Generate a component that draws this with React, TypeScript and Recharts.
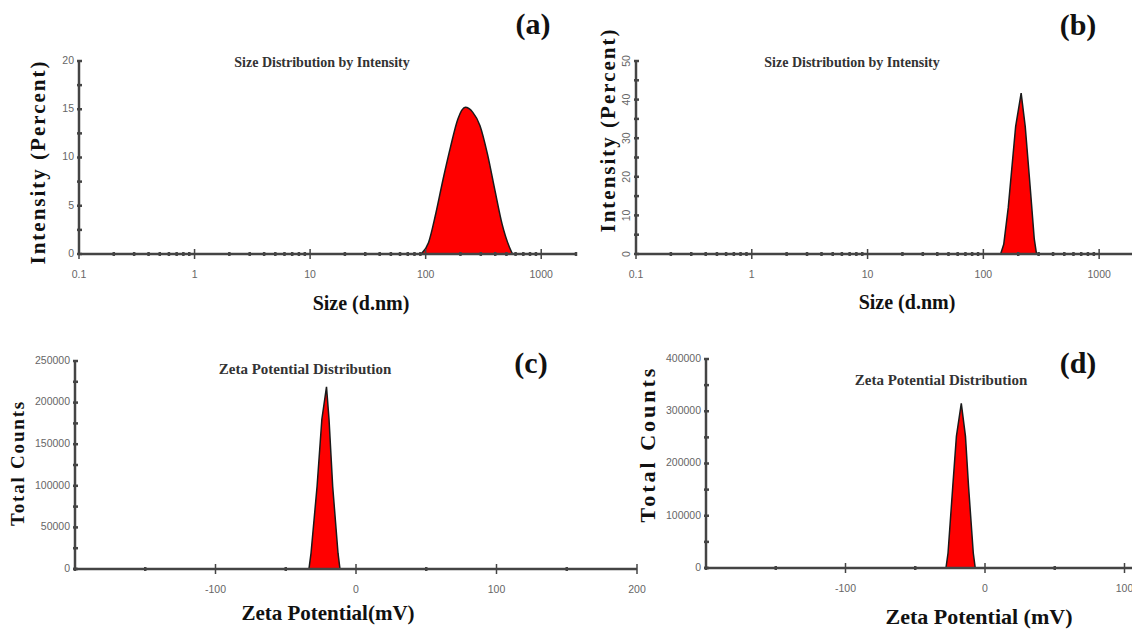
import { Area, AreaChart, XAxis, YAxis } from "recharts";
import type { CSSProperties, ReactNode } from "react";

// (a) size distribution, sample 1
const SIZE_A = [91.3, 106, 122.4, 141.8, 164.2, 190.1, 220.2, 255, 295.3, 342, 396.1, 458.7, 531.2, 565];
const INTENSITY_A = [0, 1.2, 4.2, 7.8, 11.1, 14.0, 15.2, 14.7, 13.3, 10.4, 6.7, 3.1, 0.7, 0];

// (b) size distribution, sample 2
const SIZE_B = [141, 150, 164, 190, 212, 230, 255, 275, 288];
const INTENSITY_B = [0, 2.5, 12, 33, 41.7, 33, 16.5, 4, 0];

// (c) zeta potential, sample 1
const ZETA_C = [-33.5, -32, -27.7, -24.3, -21, -19.2, -16.6, -12.8, -11.4];
const COUNTS_C = [0, 19000, 99500, 180000, 219000, 180000, 99500, 19000, 0];

// (d) zeta potential, sample 2
const ZETA_D = [-28, -26.5, -23.1, -20.5, -17, -14, -11.8, -8.4, -7];
const COUNTS_D = [0, 28700, 156300, 252000, 315000, 252000, 156300, 28700, 0];

// axis ticks
const DECADES = [0.1, 1, 10, 100, 1000];
const LOG_MINOR = [2, 3, 4, 5, 6, 7, 8, 9];
const SIZE_TICKS = DECADES.flatMap((d) => [d, ...LOG_MINOR.map((m) => +(d * m).toPrecision(3))]).filter((v) => v <= 2000);
const ZETA_TICKS = [-200, -150, -100, -50, 0, 50, 100, 150, 200];
const ZETA_LABELS = [-100, 0, 100, 200];
const INT_A_TICKS = [0, 2.5, 5, 7.5, 10, 12.5, 15, 17.5, 20];
const INT_A_LABELS = [0, 5, 10, 15, 20];
const INT_B_TICKS = [0, 5, 10, 15, 20, 25, 30, 35, 40, 45, 50];
const INT_B_LABELS = [0, 10, 20, 30, 40, 50];
const COUNT_C_TICKS = [0, 25000, 50000, 75000, 100000, 125000, 150000, 175000, 200000, 225000, 250000];
const COUNT_C_LABELS = [0, 50000, 100000, 150000, 200000, 250000];
const COUNT_D_TICKS = [0, 50000, 100000, 150000, 200000, 250000, 300000, 350000, 400000];
const COUNT_D_LABELS = [0, 100000, 200000, 300000, 400000];

const AXIS = "#444";
const TICK_FONT = "'Liberation Sans Narrow', 'Liberation Sans', Arial, sans-serif";
const SERIF = "'Liberation Serif', 'Times New Roman', serif";

const Y_W = 70;
const X_H = 40;
const M_TOP = 10;
const M_RIGHT = 24;

function xTick(labels: number[]) {
  const set = new Set(labels);
  return (props: any) => {
    const { x, y, payload } = props;
    const major = set.has(payload.value) || DECADES.includes(payload.value);
    const show = set.has(payload.value);
    return (
      <g>
        <line x1={x} x2={x} y1={y - (major ? 5 : 2)} y2={y + (major ? 5 : 2)} stroke={AXIS} strokeWidth={major ? 1.5 : 2.5} />
        {show && (
          <text x={x} y={y + 21} textAnchor="middle" dominantBaseline="middle" fontSize={10.5} fill="#666" fontFamily={TICK_FONT}>
            {String(payload.value)}
          </text>
        )}
      </g>
    );
  };
}

function yTick(labels: number[], rotated = false) {
  const set = new Set(labels);
  return (props: any) => {
    const { x, y, payload } = props;
    const show = set.has(payload.value);
    return (
      <g>
        <line x1={x - 2} x2={x + 3} y1={y} y2={y} stroke={AXIS} strokeWidth={2.5} />
        {show &&
          (rotated ? (
            <text x={x - 9} y={y} textAnchor="middle" dominantBaseline="middle" fontSize={10.5} fill="#666" fontFamily={TICK_FONT} transform={`rotate(-90 ${x - 9} ${y})`}>
              {String(payload.value)}
            </text>
          ) : (
            <text x={x - 5} y={y} textAnchor="end" dominantBaseline="middle" fontSize={10.5} fill="#666" fontFamily={TICK_FONT}>
              {String(payload.value)}
            </text>
          ))}
      </g>
    );
  };
}

interface PanelProps {
  left: number;
  top: number;
  plotW: number;
  plotH: number;
  xs: number[];
  ys: number[];
  log?: boolean;
  xDomain: [number, number];
  xTicks: number[];
  xLabels: number[];
  yDomain: [number, number];
  yTicks: number[];
  yLabels: number[];
  rotatedY?: boolean;
  curve: "monotone" | "linear";
}

function Panel(p: PanelProps) {
  const data = p.xs.map((x, i) => ({ x, y: p.ys[i] }));
  return (
    <div style={{ position: "absolute", left: p.left - Y_W, top: p.top - M_TOP }}>
      <AreaChart
        width={Y_W + p.plotW + M_RIGHT}
        height={M_TOP + p.plotH + X_H}
        data={data}
        margin={{ top: M_TOP, right: M_RIGHT, bottom: 0, left: 0 }}
      >
        <XAxis
          dataKey="x"
          type="number"
          scale={p.log ? "log" : "linear"}
          domain={p.xDomain}
          allowDataOverflow
          ticks={p.xTicks}
          interval={0}
          height={X_H}
          tickSize={0}
          tickMargin={0}
          tickLine={false}
          axisLine={{ stroke: AXIS, strokeWidth: 2.5 }}
          tick={xTick(p.xLabels)}
        />
        <YAxis
          type="number"
          domain={p.yDomain}
          allowDataOverflow
          ticks={p.yTicks}
          interval={0}
          width={Y_W}
          tickSize={0}
          tickMargin={0}
          tickLine={false}
          axisLine={{ stroke: AXIS, strokeWidth: 2.5 }}
          tick={yTick(p.yLabels, p.rotatedY)}
        />
        <Area
          dataKey="y"
          type={p.curve}
          fill="#ff0000"
          fillOpacity={1}
          stroke="#1a1a1a"
          strokeWidth={1.5}
          dot={false}
          activeDot={false}
          isAnimationActive={false}
        />
      </AreaChart>
    </div>
  );
}

function Txt({ x, y, size, rotate, children, style }: { x: number; y: number; size: number; rotate?: boolean; children: ReactNode; style?: CSSProperties }) {
  return (
    <div
      style={{
        position: "absolute",
        left: x,
        top: y,
        transform: `translate(-50%, -50%)${rotate ? " rotate(-90deg)" : ""}`,
        whiteSpace: "nowrap",
        fontFamily: SERIF,
        fontWeight: "bold",
        fontSize: size,
        color: "#111",
        lineHeight: 1,
        ...style,
      }}
    >
      {children}
    </div>
  );
}

const TITLE: CSSProperties = { color: "#333" };

export default function App() {
  return (
    <div style={{ position: "fixed", left: 0, top: 0, width: 1132, height: 629, overflow: "hidden", background: "#fff" }}>
      <Panel left={79} top={61} plotW={497} plotH={193} xs={SIZE_A} ys={INTENSITY_A} log xDomain={[0.1, 2000]} xTicks={SIZE_TICKS} xLabels={DECADES} yDomain={[0, 20]} yTicks={INT_A_TICKS} yLabels={INT_A_LABELS} curve="monotone" />
      <Panel left={636} top={61} plotW={498} plotH={193} xs={SIZE_B} ys={INTENSITY_B} log xDomain={[0.1, 2000]} xTicks={SIZE_TICKS} xLabels={DECADES} yDomain={[0, 50]} yTicks={INT_B_TICKS} yLabels={INT_B_LABELS} rotatedY curve="linear" />
      <Panel left={75} top={361} plotW={562} plotH={208} xs={ZETA_C} ys={COUNTS_C} xDomain={[-200, 200]} xTicks={ZETA_TICKS} xLabels={ZETA_LABELS} yDomain={[0, 250000]} yTicks={COUNT_C_TICKS} yLabels={COUNT_C_LABELS} curve="linear" />
      <Panel left={706} top={359} plotW={558} plotH={209} xs={ZETA_D} ys={COUNTS_D} xDomain={[-200, 200]} xTicks={ZETA_TICKS} xLabels={ZETA_LABELS} yDomain={[0, 400000]} yTicks={COUNT_D_TICKS} yLabels={COUNT_D_LABELS} curve="linear" />

      <Txt x={533} y={24} size={30}>(a)</Txt>
      <Txt x={322} y={63} size={14} style={TITLE}>Size Distribution by Intensity</Txt>
      <Txt x={38} y={162} size={21} rotate style={{ letterSpacing: 2 }}>Intensity (Percent)</Txt>
      <Txt x={361} y={303} size={20}>Size (d.nm)</Txt>

      <Txt x={1078} y={25} size={30}>(b)</Txt>
      <Txt x={852} y={63} size={14} style={TITLE}>Size Distribution by Intensity</Txt>
      <Txt x={608} y={130} size={21} rotate style={{ letterSpacing: 2 }}>Intensity (Percent)</Txt>
      <Txt x={907} y={302} size={20}>Size (d.nm)</Txt>

      <Txt x={531} y={363} size={30}>(c)</Txt>
      <Txt x={305} y={369} size={15} style={TITLE}>Zeta Potential Distribution</Txt>
      <Txt x={17} y={463} size={19} rotate style={{ letterSpacing: 1.8 }}>Total Counts</Txt>
      <Txt x={328} y={613} size={21}>Zeta Potential(mV)</Txt>

      <Txt x={1078} y={363} size={30}>(d)</Txt>
      <Txt x={941} y={380} size={15} style={TITLE}>Zeta Potential Distribution</Txt>
      <Txt x={648} y={444} size={22} rotate style={{ letterSpacing: 3 }}>Total Counts</Txt>
      <Txt x={979} y={617} size={22}>Zeta Potential (mV)</Txt>
    </div>
  );
}
